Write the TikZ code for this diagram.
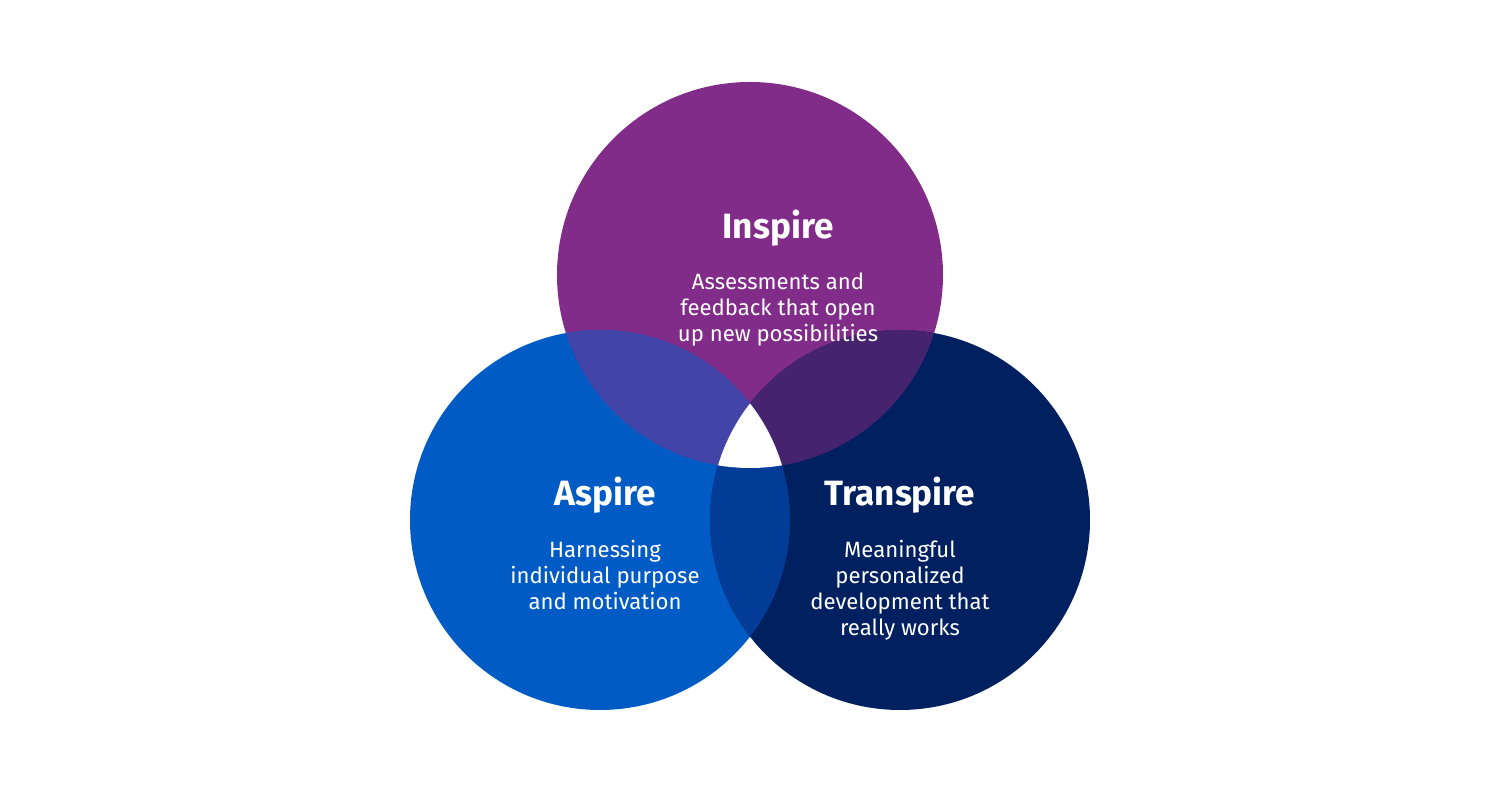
\documentclass[tikz,border=0pt]{standalone}
\usepackage{fontspec}
\setmainfont{Fira Sans}
\usetikzlibrary{positioning}
\definecolor{inspirecol}{HTML}{822C8A}
\definecolor{aspirecol}{HTML}{005BC5}
\definecolor{transpirecol}{HTML}{00205F}
\definecolor{iacol}{HTML}{4244A8}
\definecolor{itcol}{HTML}{45236F}
\definecolor{atcol}{HTML}{033C96}
\begin{document}
\begin{tikzpicture}[
    title/.style={text=white, font=\fontsize{10}{12}\selectfont\bfseries},
    sub/.style={text=white, align=center, font=\fontsize{6.3}{7.4}\selectfont}]
  \useasboundingbox (0,0) rectangle (15,8);
  \def\circI{(7.5,5.25) circle (1.93)}
  \def\circA{(6.0,2.8) circle (1.9)}
  \def\circT{(9.0,2.8) circle (1.9)}
  \fill[inspirecol] \circI;
  \fill[aspirecol] \circA;
  \fill[transpirecol] \circT;
  % overlaps
  \begin{scope}
    \clip \circI; \fill[iacol] \circA;
  \end{scope}
  \begin{scope}
    \clip \circI; \fill[itcol] \circT;
  \end{scope}
  \begin{scope}
    \clip \circA; \fill[atcol] \circT;
  \end{scope}
  \begin{scope}
    \clip \circI; \clip \circA; \fill[white] \circT;
  \end{scope}
  % labels
  \node[title] (inspire) at (7.78,5.72) {Inspire};
  \node[sub, below=0.5pt of inspire] (inspiretxt) {Assessments and\\feedback that open\\up new possibilities};
  \node[title] (aspire) at (6.05,3.05) {Aspire};
  \node[sub, below=0.5pt of aspire] (aspiretxt) {Harnessing\\individual purpose\\and motivation};
  \node[title] (transpire) at (9.0,3.05) {Transpire};
  \node[sub, below=0.5pt of transpire] (transpiretxt) {Meaningful\\personalized\\development that\\really works};
\end{tikzpicture}
\end{document}
